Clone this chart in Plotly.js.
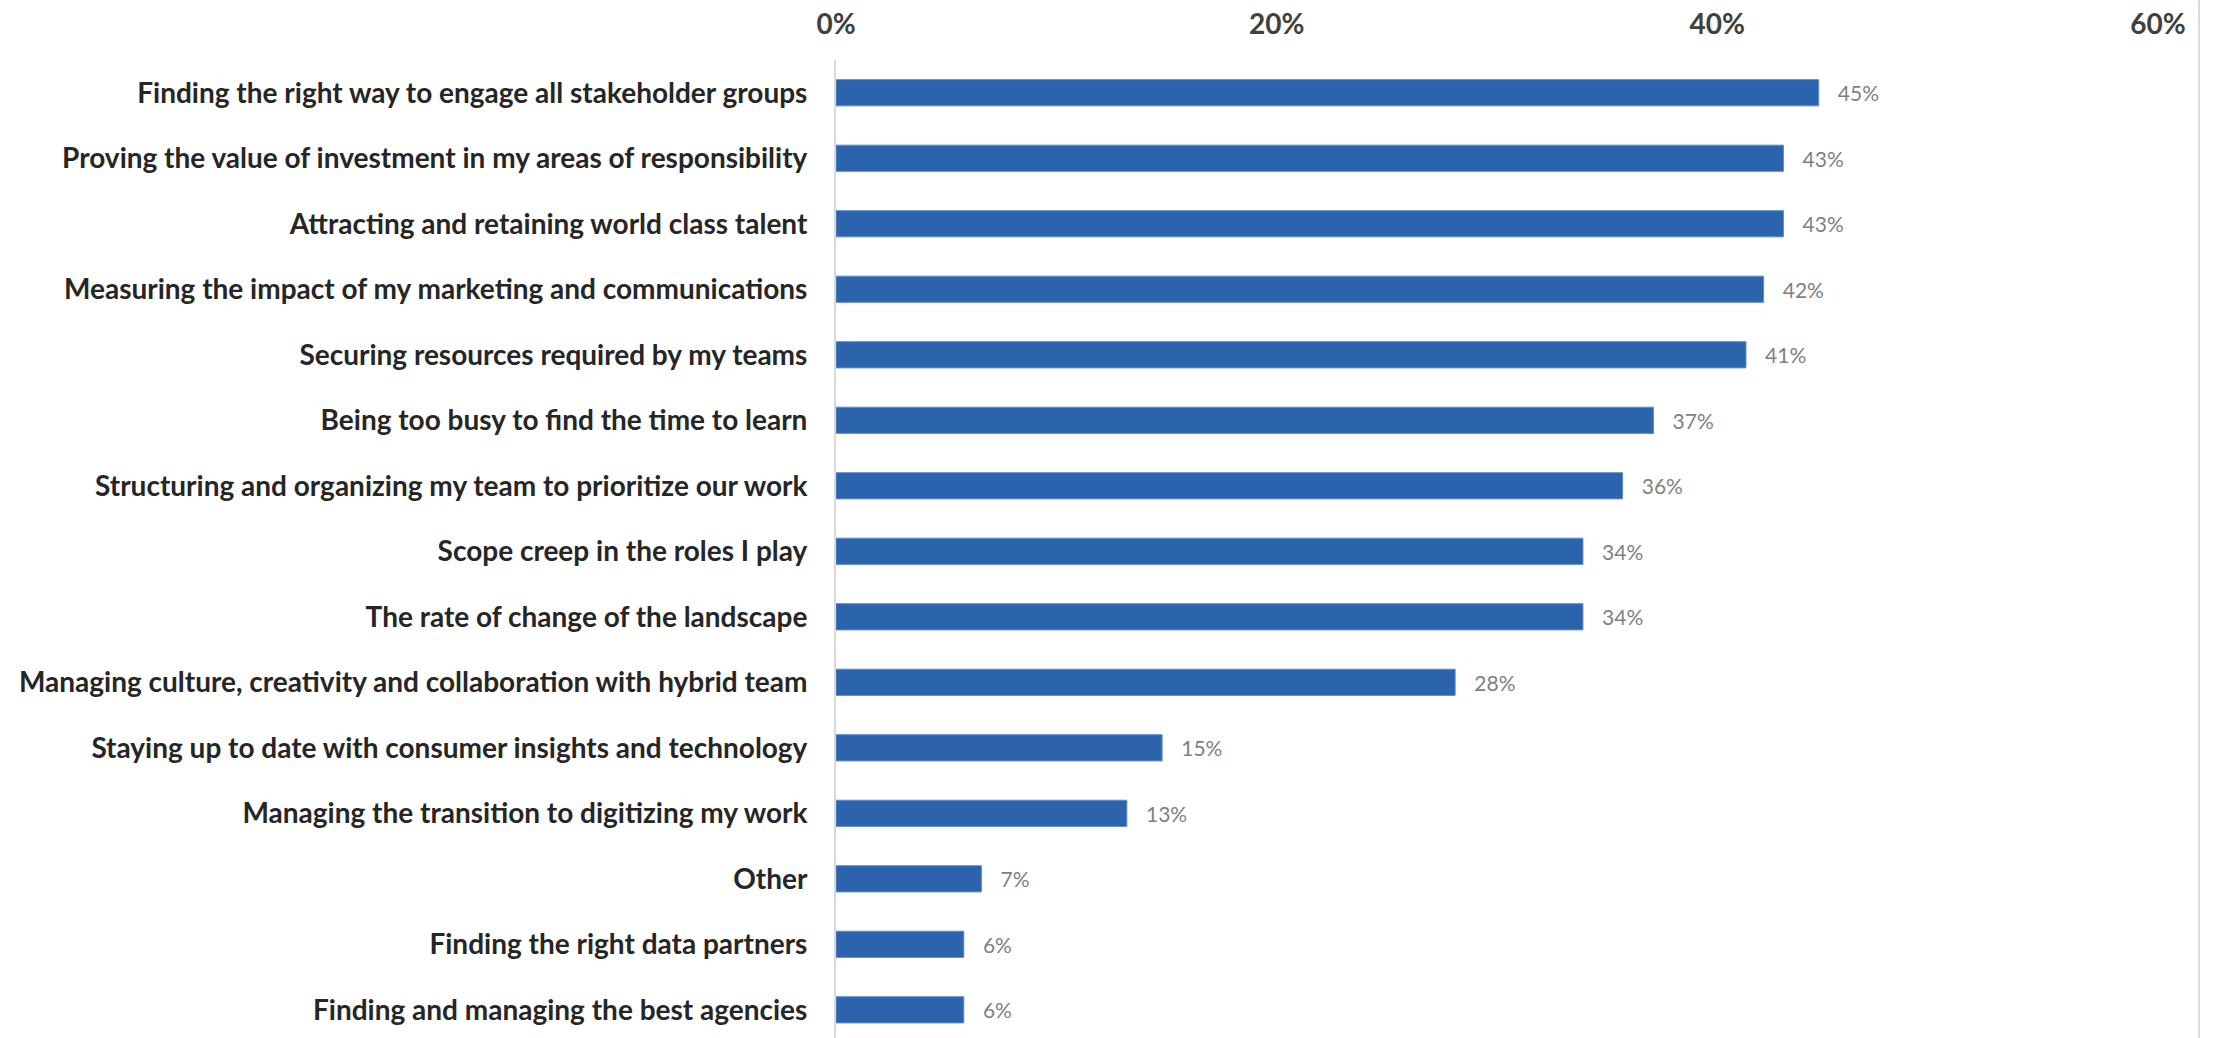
<!DOCTYPE html>
<html>
<head>
<meta charset="utf-8">
<script src="https://cdn.plot.ly/plotly-3.0.1.min.js"></script>
<style>
html,body{margin:0;padding:0;background:#fff;}
#chart{width:2216px;height:1038px;}
</style>
</head>
<body>
<div id="chart"></div>
<script>
const categories = [
  "Finding the right way to engage all stakeholder groups",
  "Proving the value of investment in my areas of responsibility",
  "Attracting and retaining world class talent",
  "Measuring the impact of my marketing and communications",
  "Securing resources required by my teams",
  "Being too busy to find the time to learn",
  "Structuring and organizing my team to prioritize our work",
  "Scope creep in the roles I play",
  "The rate of change of the landscape",
  "Managing culture, creativity and collaboration with hybrid team",
  "Staying up to date with consumer insights and technology",
  "Managing the transition to digitizing my work",
  "Other",
  "Finding the right data partners",
  "Finding and managing the best agencies"
];
const values = [0.446, 0.430, 0.430, 0.421, 0.413, 0.371, 0.357, 0.339, 0.339, 0.281, 0.148, 0.132, 0.066, 0.058, 0.058];
const tickValues = [0, 0.2, 0.4, 0.6];
const tickLabels = ["0%", "20%", "40%", "60%"];

const trace = {
  type: 'bar',
  orientation: 'h',
  y: categories,
  x: values,
  marker: {color: '#2B63AC', line: {color: '#5F8CCB', width: 1}},
  texttemplate: '\u00a0\u00a0\u00a0%{x:.0%}',
  textposition: 'outside',
  cliponaxis: false,
  textfont: {family: 'Lato, sans-serif', size: 21, color: '#7F7F7F'},
  hoverinfo: 'skip'
};

const layout = {
  width: 2216,
  height: 1038,
  margin: {l: 836, r: 58, t: 60, b: 0, pad: 0},
  paper_bgcolor: '#ffffff',
  plot_bgcolor: '#ffffff',
  showlegend: false,
  bargap: 0.6,
  xaxis: {
    side: 'top',
    range: [0, 0.6],
    tickvals: tickValues,
    ticktext: tickLabels,
    showgrid: false,
    zeroline: false,
    showline: false,
    ticks: '',
    ticklabelstandoff: 19,
    tickfont: {family: 'Lato, sans-serif', size: 28, color: '#404040', weight: 'bold'},
    fixedrange: true
  },
  yaxis: {
    type: 'category',
    range: [14.43, -0.5],
    showgrid: false,
    zeroline: false,
    showline: true,
    linecolor: '#D9D9D9',
    linewidth: 2,
    ticks: '',
    ticklabelstandoff: 21,
    tickfont: {family: 'Lato, sans-serif', size: 28, color: '#262626', weight: 'bold'},
    fixedrange: true
  },
  shapes: [{
    type: 'line', xref: 'paper', yref: 'paper',
    x0: 1.031, x1: 1.031, y0: -0.05, y1: 1.07,
    line: {color: '#D9D9D9', width: 2}
  }]
};

Plotly.newPlot('chart', [trace], layout, {displayModeBar: false, staticPlot: true});
</script>
</body>
</html>
